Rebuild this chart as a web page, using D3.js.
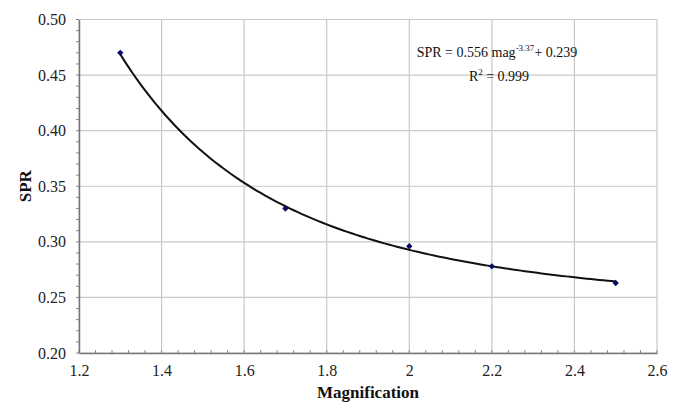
<!DOCTYPE html>
<html>
<head>
<meta charset="utf-8">
<script src="https://cdn.jsdelivr.net/npm/d3@7"></script>
<style>
body{margin:0;background:#fff}
</style>
</head>
<body>
<script>
var magnification=[1.3,1.7,2.0,2.2,2.5],
	spr=[0.470,0.330,0.296,0.278,0.263]

var xTicks=[1.2,1.4,1.6,1.8,2,2.2,2.4,2.6],
	yTicks=[0.20,0.25,0.30,0.35,0.40,0.45,0.50]

// fitted power curve shown in the chart label
var fitA=0.556, fitB=-3.37, fitC=0.239

var FONT="'Liberation Serif'"

var margin={top:19.5,left:79,right:23,bottom:54},
	WIDTH=680-margin.left-margin.right,
	HEIGHT=407-margin.top-margin.bottom

var svg=d3.select('body').append('svg')
	.attr('width',680).attr('height',407)

var g=svg.append('g').attr('transform','translate('+margin.left+','+margin.top+')')

var xScale=d3.scaleLinear().domain([1.2,2.6]).range([0,WIDTH])
var yScale=d3.scaleLinear().domain([0.2,0.5]).range([HEIGHT,0])

// grid
g.selectAll('.vgrid').data(xTicks).enter().append('line')
	.attr('x1',d=>xScale(d)).attr('x2',d=>xScale(d))
	.attr('y1',0).attr('y2',HEIGHT)
	.attr('stroke','#c8c8c8').attr('stroke-width',1.2)
g.selectAll('.hgrid').data(yTicks).enter().append('line')
	.attr('x1',0).attr('x2',WIDTH)
	.attr('y1',d=>yScale(d)).attr('y2',d=>yScale(d))
	.attr('stroke','#c8c8c8').attr('stroke-width',1.2)

// minor ticks
var xMinor=d3.range(1.2,2.6001,0.04)
var yMinor=d3.range(0.2,0.5001,0.01)
g.selectAll('.xm').data(xMinor).enter().append('line')
	.attr('x1',d=>xScale(d)).attr('x2',d=>xScale(d))
	.attr('y1',HEIGHT-3).attr('y2',HEIGHT)
	.attr('stroke','#888').attr('stroke-width',1)
g.selectAll('.ym').data(yMinor).enter().append('line')
	.attr('x1',-3).attr('x2',0)
	.attr('y1',d=>yScale(d)).attr('y2',d=>yScale(d))
	.attr('stroke','#888').attr('stroke-width',1)

// axes
var xAxis=g.append('g').attr('transform','translate(0,'+HEIGHT+')')
	.call(d3.axisBottom(xScale).tickValues(xTicks).tickSize(0).tickPadding(12).tickFormat(d=>d3.format('')(+d.toFixed(1))))
var yAxis=g.append('g')
	.call(d3.axisLeft(yScale).tickValues(yTicks).tickSize(0).tickPadding(13).tickFormat(d3.format('.2f')))
xAxis.attr('font-family',FONT)
yAxis.attr('font-family',FONT)
svg.selectAll('.domain').attr('stroke','#777').attr('stroke-width',1.5)
svg.selectAll('.tick text').attr('font-size',16).attr('fill','#222').attr('font-family',FONT)

// fit curve
var curvePts=d3.range(1.3,2.5001,0.01).map(m=>[m,fitA*Math.pow(m,fitB)+fitC])
g.append('path').datum(curvePts)
	.attr('d',d3.line().x(d=>xScale(d[0])).y(d=>yScale(d[1])))
	.attr('fill','none').attr('stroke','#111').attr('stroke-width',2)

// points
g.selectAll('.pt').data(magnification).enter().append('path')
	.attr('d',d3.symbol().type(d3.symbolSquare).size(20))
	.attr('transform',(d,i)=>'translate('+xScale(d)+','+yScale(spr[i])+') rotate(45)')
	.attr('fill','#0a0a6a')

// labels
var eq=svg.append('text').attr('x',497).attr('y',57).attr('text-anchor','middle')
	.attr('font-size',14).attr('fill','#111').attr('font-family',FONT)
eq.append('tspan').text('SPR = 0.556 mag')
eq.append('tspan').attr('dy',-6).attr('font-size',9).text('-3.37')
eq.append('tspan').attr('dy',6).text('+ 0.239')
var r2=svg.append('text').attr('x',499).attr('y',81).attr('text-anchor','middle')
	.attr('font-size',14).attr('fill','#111').attr('font-family',FONT)
r2.append('tspan').text('R')
r2.append('tspan').attr('dy',-6).attr('font-size',9).text('2')
r2.append('tspan').attr('dy',6).text(' = 0.999')

svg.append('text').text('Magnification')
	.attr('x',margin.left+WIDTH/2).attr('y',398).attr('text-anchor','middle')
	.attr('font-size',17).attr('font-weight','bold').attr('fill','#111').attr('font-family',FONT)
svg.append('text').text('SPR')
	.attr('transform','translate(31,'+(margin.top+HEIGHT/2)+') rotate(-90)')
	.attr('text-anchor','middle')
	.attr('font-size',17).attr('font-weight','bold').attr('fill','#111').attr('font-family',FONT)
</script>
</body>
</html>
